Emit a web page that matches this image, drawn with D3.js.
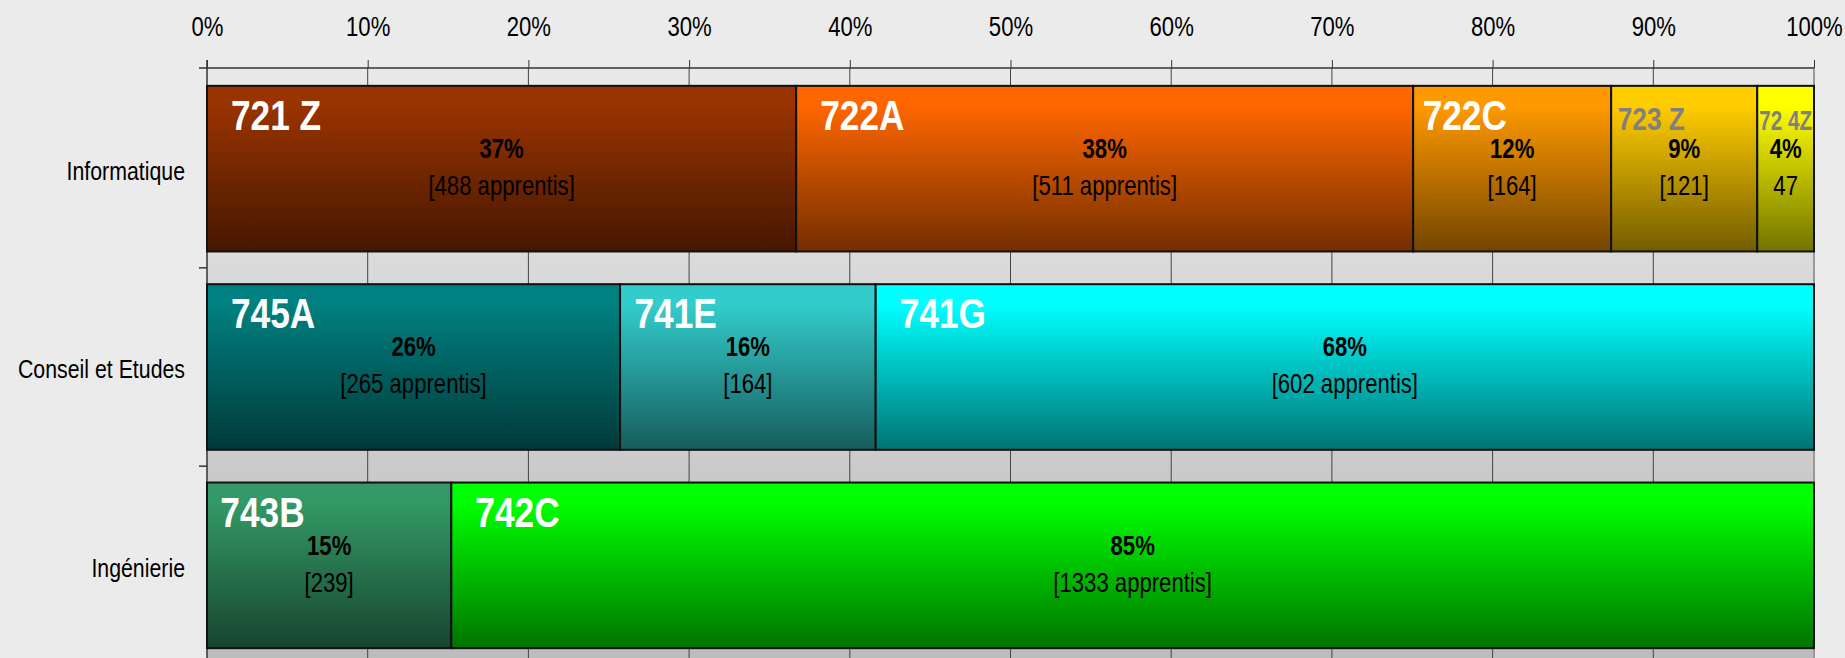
<!DOCTYPE html>
<meta charset="utf-8">
<script src="https://d3js.org/d3.v7.min.js"></script>
<style>
  body { margin: 0; background: #ebebeb; }
  svg { display: block; font-family: "Liberation Sans", Arial, sans-serif; }
</style>
<div id="chart"></div>
<script>
// data
const categories = ["Informatique", "Conseil et Etudes", "Ingénierie"];
const codes = [
  ["721 Z", "722A", "722C", "723 Z", "72 4Z"],
  ["745A", "741E", "741G"],
  ["743B", "742C"]
];
const apprentis = [
  [488, 511, 164, 121, 47],
  [265, 164, 602],
  [239, 1333]
];
// percent labels as printed (the 68% is in the original)
const pctLabels = [
  ["37%", "38%", "12%", "9%", "4%"],
  ["26%", "16%", "68%"],
  ["15%", "85%"]
];
const countLabels = [
  ["[488 apprentis]", "[511 apprentis]", "[164]", "[121]", "47"],
  ["[265 apprentis]", "[164]", "[602 apprentis]"],
  ["[239]", "[1333 apprentis]"]
];
const tickValues = [0, 10, 20, 30, 40, 50, 60, 70, 80, 90, 100];

// colours (top of gradient) per segment
const baseColors = [
  ["#993300", "#ff6600", "#ff9900", "#ffcc00", "#ffff00"],
  ["#008080", "#33cccc", "#00ffff"],
  ["#339966", "#00ff00"]
];

var W = 1845, H = 658;
var x0 = 207, x1 = 1814, plotTop = 68;
var NARROW = 0.82; // no narrow font installed: squeeze Liberation Sans

// move x/y into a transform and squeeze horizontally
function narrow(sel) {
  sel.each(function() {
    var t = d3.select(this);
    var tx = +t.attr("x") || 0, ty = +t.attr("y") || 0;
    t.attr("x", 0).attr("y", 0)
      .attr("transform", "translate(" + tx + "," + ty + ") scale(" + NARROW + ",1)");
  });
}

var svg = d3.select("#chart").append("svg")
  .attr("width", W).attr("height", H);

var defs = svg.append("defs");

// plot background gradient
var bg = defs.append("linearGradient").attr("id", "bg")
  .attr("x1", 0).attr("y1", 0).attr("x2", 0).attr("y2", 1);
bg.append("stop").attr("offset", 0).attr("stop-color", "#e9e9e9");
bg.append("stop").attr("offset", 1).attr("stop-color", "#bcbcbc");

var x = d3.scaleLinear().domain([0, 100]).range([x0, x1]);
var y = d3.scaleBand().domain(categories).range([plotTop, 666])
  .paddingInner(0.165).paddingOuter(0.09);

svg.append("rect")
  .attr("x", x0).attr("y", plotTop)
  .attr("width", x1 - x0).attr("height", H - plotTop)
  .attr("fill", "url(#bg)");

// vertical grid
svg.append("g").selectAll("line")
  .data(tickValues.slice(1, -1))
  .join("line")
  .attr("x1", d => x(d)).attr("x2", d => x(d))
  .attr("y1", plotTop).attr("y2", H)
  .attr("stroke", "#444").attr("stroke-width", 1);

// right border of plot
svg.append("line")
  .attr("x1", x1).attr("x2", x1).attr("y1", plotTop).attr("y2", H)
  .attr("stroke", "#999").attr("stroke-width", 2);

// top axis
var xAxis = svg.append("g")
  .attr("transform", "translate(0," + plotTop + ")")
  .call(d3.axisTop(x).tickValues(tickValues).tickFormat(d => d + "%")
    .tickSize(8).tickSizeOuter(0).tickPadding(24));
xAxis.attr("font-family", null).attr("font-size", null);
xAxis.select(".domain").attr("stroke", "#333").attr("stroke-width", 1.5)
  .attr("d", "M" + (x0 - 8) + ",0H" + x1);
xAxis.selectAll(".tick line").attr("stroke", "#333");
xAxis.selectAll("text").attr("font-size", 27).attr("fill", "#000")
  .attr("transform", "scale(" + NARROW + ",1)");

// left axis line, boundary ticks
svg.append("line")
  .attr("x1", x0).attr("x2", x0).attr("y1", plotTop - 8).attr("y2", H)
  .attr("stroke", "#333").attr("stroke-width", 1.5);
var step = y.step();
var bounds = categories.map(c => y(c) - step * y.paddingInner() / 2);
svg.append("g").selectAll("line")
  .data(bounds.slice(1))
  .join("line")
  .attr("x1", x0 - 8).attr("x2", x0)
  .attr("y1", d => d).attr("y2", d => d)
  .attr("stroke", "#333").attr("stroke-width", 1.5);

svg.append("g").selectAll("text")
  .data(categories)
  .join("text")
  .attr("x", x0 - 22)
  .attr("y", d => y(d) + y.bandwidth() / 2 + 2)
  .attr("text-anchor", "end")
  .attr("dominant-baseline", "central")
  .attr("font-size", 26)
  .text(d => d)
  .call(narrow);

// build segments
var segs = [];
categories.forEach(function(cat, i) {
  var total = d3.sum(apprentis[i]);
  var acc = 0;
  apprentis[i].forEach(function(v, j) {
    segs.push({
      cat: cat, i: i, j: j,
      start: acc / total * 100, end: (acc + v) / total * 100,
      code: codes[i][j], pct: pctLabels[i][j], count: countLabels[i][j],
      color: baseColors[i][j]
    });
    acc += v;
  });
});

segs.forEach(function(s, k) {
  var g = defs.append("linearGradient").attr("id", "g" + k)
    .attr("x1", 0).attr("y1", 0).attr("x2", 0).attr("y2", 1);
  var c = d3.rgb(s.color);
  var dark = d3.rgb(c.r * 0.45, c.g * 0.45, c.b * 0.45);
  g.append("stop").attr("offset", 0).attr("stop-color", c.formatHex());
  g.append("stop").attr("offset", 0.12).attr("stop-color", c.formatHex());
  g.append("stop").attr("offset", 1).attr("stop-color", dark.formatHex());
});

var bars = svg.append("g").selectAll("g")
  .data(segs)
  .join("g");

bars.append("rect")
  .attr("x", d => x(d.start))
  .attr("y", d => y(d.cat))
  .attr("width", d => x(d.end) - x(d.start))
  .attr("height", y.bandwidth())
  .attr("fill", (d, k) => "url(#g" + k + ")")
  .attr("stroke", "#111")
  .attr("stroke-width", 2);

// code labels (top-left of segment)
bars.append("text")
  .attr("class", "code")
  .attr("font-weight", "bold")
  .attr("y", d => y(d.cat) + 44)
  .attr("fill", d => (d.end - d.start) < 10 ? "#808080" : "#fff")
  .attr("font-size", d => (d.end - d.start) < 10 ? 32 : 43)
  .text(d => d.code)
  .each(function(d) {
    var w = x(d.end) - x(d.start);
    var tw = this.getComputedTextLength() * NARROW;
    var sel = d3.select(this);
    if (tw > w - 4) {
      sel.attr("font-size", 28).attr("textLength", (w - 4) / NARROW)
        .attr("lengthAdjust", "spacingAndGlyphs");
      sel.attr("x", x(d.start) + 2);
    } else {
      var dx = w > 300 ? 24 : Math.max(3, Math.min(20, (w - tw) / 12));
      sel.attr("x", x(d.start) + dx);
    }
  })
  .call(narrow);

bars.append("text")
  .attr("x", d => (x(d.start) + x(d.end)) / 2)
  .attr("y", d => y(d.cat) + 72)
  .attr("text-anchor", "middle")
  .attr("font-weight", "bold")
  .attr("font-size", 27)
  .attr("fill", "#000")
  .text(d => d.pct)
  .call(narrow);

bars.append("text")
  .attr("x", d => (x(d.start) + x(d.end)) / 2)
  .attr("y", d => y(d.cat) + 109)
  .attr("text-anchor", "middle")
  .attr("font-size", 27)
  .attr("fill", "#000")
  .text(d => d.count)
  .call(narrow);
</script>
